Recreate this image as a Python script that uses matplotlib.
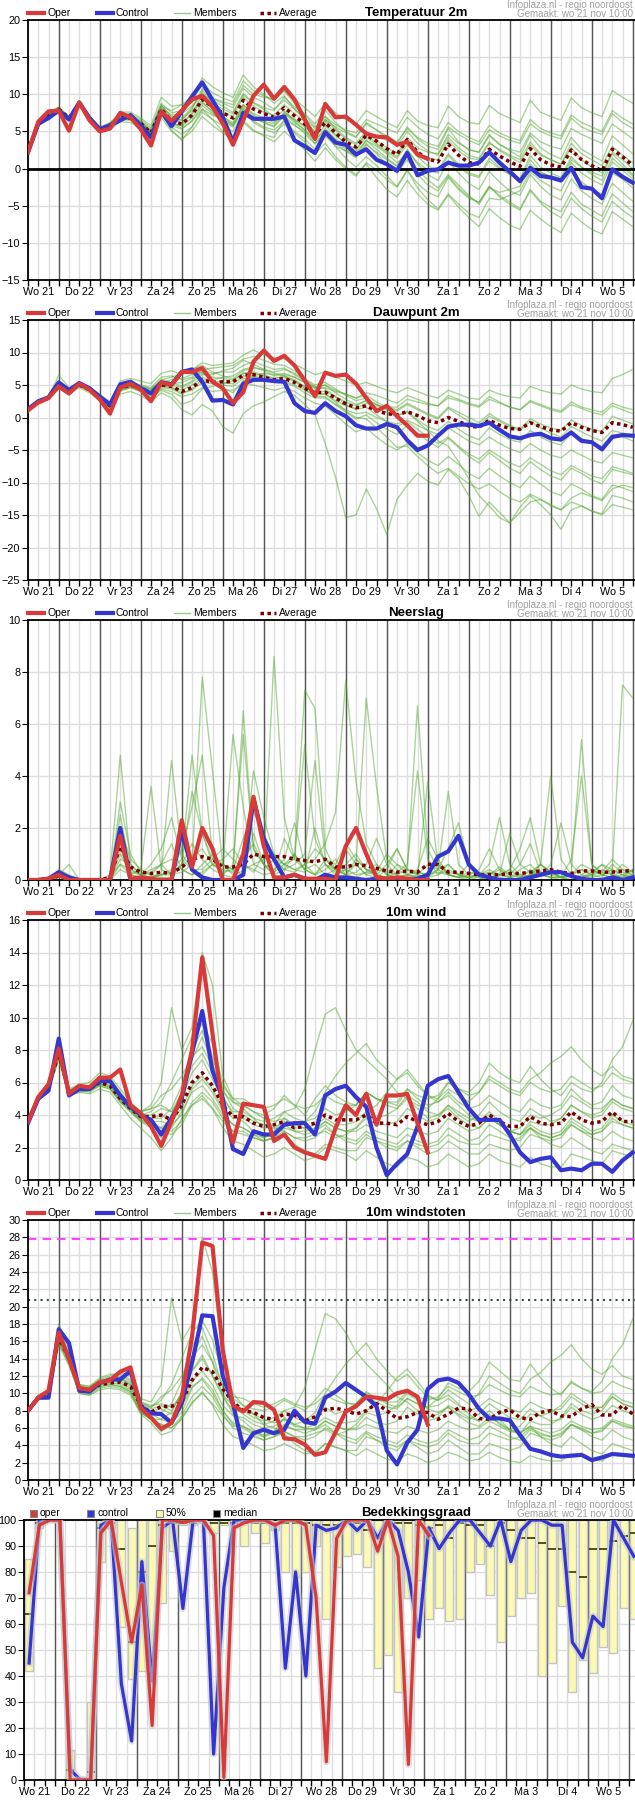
import numpy as np
import matplotlib
matplotlib.use('Agg')
import matplotlib.pyplot as plt
from matplotlib.lines import Line2D
from matplotlib.patches import Rectangle
import matplotlib.patheffects as pe

plt.rcParams['font.family'] = ['Liberation Sans', 'DejaVu Sans']

# ---- data (6-uurlijkse stappen vanaf wo 21 06:00) ----
days = ['Wo 21', 'Do 22', 'Vr 23', 'Za 24', 'Zo 25', 'Ma 26', 'Di 27', 'Wo 28',
        'Do 29', 'Vr 30', 'Za 1', 'Zo 2', 'Ma 3', 'Di 4', 'Wo 5']

temp_oper = [2.2, 6.3, 7.7, 7.8, 5.1, 8.9, 6.5, 5.0, 5.4, 7.5, 6.9, 5.3, 3.1, 7.7, 6.4, 7.8, 9.3, 9.8, 8.3, 6.1,
             3.2, 6.5, 9.8, 11.3, 9.4, 11.0, 9.3, 6.6, 4.0, 8.7, 6.9, 7.0, 5.9, 4.7, 4.3, 4.2, 3.2, 3.6, 1.9, 1.3]
temp_ctrl = [2.2, 6.0, 6.8, 7.8, 6.6, 8.9, 6.8, 5.3, 5.8, 6.5, 7.2, 5.8, 4.2, 7.7, 5.7, 7.7, 9.7, 11.6, 9.2, 6.9,
             3.6, 7.5, 6.7, 6.7, 6.7, 7.0, 3.8, 3.0, 2.1, 4.9, 3.5, 3.2, 1.9, 2.6, 1.2, 0.6, -0.3, 2.1, -0.9, -0.3,
             -0.1, 0.8, 0.4, 0.4, 0.8, 2.2, 0.8, -0.4, -1.7, 0.1, -1.0, -1.2, -1.6, 0.1, -2.5, -2.7, -4.0, -0.1, -1.1, -1.9]
temp_avg = [2.2, 6.2, 7.2, 8.0, 6.8, 8.8, 6.8, 5.3, 5.8, 6.9, 6.8, 6.1, 4.8, 8.0, 6.4, 6.0, 7.2, 9.3, 8.3, 7.5,
            6.8, 9.2, 8.0, 7.4, 6.9, 8.2, 7.1, 6.0, 4.6, 6.2, 4.8, 3.6, 2.9, 4.5, 3.7, 2.7, 1.9, 3.9, 2.2, 1.3,
            0.9, 3.3, 1.8, 0.8, 0.6, 2.6, 1.7, 0.9, 0.3, 2.7, 1.2, 0.5, 0.2, 2.5, 1.2, 0.4, -0.3, 2.6, 1.6, 0.4]
temp_members = [
    [2.4, 6.4, 7.5, 8.3, 7.0, 9.1, 7.0, 5.6, 6.2, 7.4, 7.3, 6.6, 5.5, 8.8, 7.5, 7.8, 9.0, 11.5, 10.2, 9.5, 9.0, 11.8, 10.5, 9.8, 9.2, 10.6, 9.4, 8.2, 7.0, 8.8, 7.5, 6.6, 6.0, 7.8, 7.0, 6.2, 5.5, 7.8, 6.4, 5.8, 5.5, 8.4, 7.0, 6.2, 6.0, 8.5, 7.4, 6.8, 6.2, 9.2, 7.6, 7.0, 6.5, 9.5, 8.2, 7.5, 7.0, 10.5, 9.6, 8.8],
    [2.0, 5.9, 6.9, 7.6, 6.4, 8.4, 6.4, 4.9, 5.2, 6.3, 6.2, 5.4, 3.8, 6.9, 5.0, 4.0, 5.0, 7.0, 5.8, 4.8, 3.9, 6.5, 5.2, 4.4, 3.6, 5.0, 3.8, 2.5, 1.0, 2.8, 1.2, 0.0, -1.0, 0.8, -0.2, -1.5, -2.5, -0.3, -2.0, -3.2, -3.8, -1.2, -2.8, -4.0, -4.5, -2.4, -3.6, -4.5, -5.4, -2.8, -4.4, -5.2, -5.8, -3.2, -4.8, -5.6, -6.4, -3.4, -4.6, -5.8],
    [2.2, 6.1, 7.4, 8.1, 6.9, 8.9, 6.9, 5.4, 5.9, 7.1, 7.0, 6.3, 5.0, 8.5, 7.0, 6.8, 8.2, 10.5, 9.2, 8.4, 7.6, 10.1, 8.9, 8.2, 7.8, 9.6, 8.3, 7.4, 6.0, 7.9, 6.2, 5.0, 4.3, 6.2, 5.2, 4.1, 3.3, 5.6, 4.0, 3.0, 2.6, 5.4, 3.6, 2.5, 2.2, 4.6, 3.3, 2.4, 1.6, 4.5, 2.8, 1.9, 1.3, 4.2, 2.6, 1.8, 1.0, 4.4, 3.2, 2.0],
    [2.1, 6.3, 7.0, 7.9, 6.6, 8.6, 6.6, 5.1, 5.6, 6.6, 6.5, 5.8, 4.4, 7.5, 5.8, 5.3, 6.4, 8.5, 7.4, 6.5, 5.8, 8.3, 7.0, 6.2, 5.7, 7.0, 5.9, 4.7, 3.3, 5.0, 3.5, 2.3, 1.5, 3.2, 2.2, 1.2, 0.3, 2.4, 0.8, -0.2, -0.6, 1.8, 0.3, -0.8, -1.2, 1.0, 0.0, -0.8, -1.5, 1.2, -0.4, -1.2, -1.8, 0.8, -0.6, -1.5, -2.2, 0.9, -0.2, -1.4],
    [2.3, 6.2, 7.3, 8.2, 6.8, 9.0, 7.1, 5.5, 6.0, 7.6, 7.6, 6.8, 5.8, 9.6, 8.4, 8.6, 8.9, 10.2, 9.0, 7.2, 5.8, 8.0, 6.4, 5.6, 5.2, 6.4, 5.0, 4.0, 2.6, 4.4, 3.0, 2.4, 1.8, 3.8, 3.0, 2.0, 0.8, 1.8, -0.2, -1.5, -2.6, -0.8, -2.2, -3.6, -4.8, -2.6, -3.2, -2.8, -2.4, 0.6, -0.6, -1.0, -1.4, 1.2, 0.2, -0.5, -1.0, 2.0, 0.6, -0.8],
    [2.2, 6.0, 7.1, 7.8, 6.7, 8.7, 6.7, 5.2, 5.7, 6.7, 6.6, 5.9, 4.6, 7.6, 6.0, 5.8, 7.5, 9.8, 9.4, 8.8, 8.2, 10.8, 9.6, 8.9, 8.0, 9.2, 8.0, 6.8, 5.4, 7.0, 5.9, 5.2, 4.8, 6.6, 6.0, 5.4, 4.8, 6.9, 5.6, 4.6, 4.0, 6.2, 5.0, 4.2, 3.6, 5.8, 4.8, 4.2, 3.8, 6.6, 5.4, 4.8, 4.4, 7.2, 6.2, 5.6, 5.0, 7.8, 6.8, 6.0],
    [2.3, 6.3, 7.1, 8.1, 6.9, 8.8, 6.9, 5.3, 5.9, 6.8, 6.9, 6.0, 4.9, 7.8, 6.2, 5.4, 6.4, 8.0, 6.6, 5.0, 3.8, 6.2, 5.0, 4.6, 4.2, 6.6, 5.8, 5.0, 3.4, 4.8, 3.0, 1.4, 0.2, 1.6, 0.4, -1.0, -2.4, -0.2, -2.6, -4.2, -5.4, -3.4, -4.8, -6.0, -6.6, -4.0, -4.2, -3.6, -3.0, -0.4, -1.6, -2.4, -3.0, -0.2, -1.8, -2.8, -3.4, -0.6, -1.4, -2.6],
    [2.1, 6.1, 7.2, 8.0, 6.7, 8.9, 6.8, 5.4, 5.8, 6.9, 6.9, 6.2, 5.1, 8.2, 7.2, 7.4, 8.4, 9.8, 8.8, 8.0, 7.4, 9.9, 8.8, 8.0, 7.0, 7.8, 6.4, 5.2, 3.8, 5.4, 4.0, 3.0, 2.4, 4.8, 4.4, 3.8, 3.0, 5.0, 3.4, 2.4, 1.8, 4.2, 2.8, 1.8, 1.4, 3.6, 2.4, 1.6, 0.8, 3.2, 1.8, 1.2, 0.6, 3.4, 2.0, 1.2, 0.4, 3.0, 1.8, 0.8],
    [2.2, 6.2, 7.0, 7.9, 6.7, 8.7, 6.7, 5.2, 5.7, 6.8, 6.6, 6.0, 4.6, 7.9, 6.2, 5.7, 6.8, 8.8, 7.8, 6.9, 6.2, 8.6, 7.4, 6.8, 6.2, 7.4, 6.2, 5.2, 3.8, 5.2, 3.8, 2.6, 1.6, 3.4, 2.0, 0.6, -0.6, 1.2, -0.8, -2.2, -3.0, -1.0, -2.6, -3.8, -4.6, -2.4, -3.8, -4.8, -5.6, -3.0, -4.6, -5.8, -6.6, -4.0, -5.4, -6.4, -7.2, -4.4, -5.6, -6.6],
    [2.3, 6.4, 7.3, 8.1, 6.9, 9.0, 7.0, 5.4, 6.1, 7.2, 7.1, 6.4, 5.3, 8.6, 6.8, 6.5, 8.0, 10.8, 9.5, 9.0, 8.6, 11.2, 10.0, 9.6, 9.4, 10.4, 8.8, 7.2, 5.6, 7.0, 5.4, 4.2, 3.4, 5.0, 3.8, 2.8, 2.0, 4.2, 2.8, 2.2, 2.0, 4.6, 3.4, 2.6, 2.2, 4.4, 3.2, 2.6, 2.2, 4.8, 3.6, 3.0, 2.6, 5.4, 4.6, 4.0, 3.4, 6.0, 5.0, 4.0],
    [2.2, 6.0, 7.2, 8.0, 6.8, 8.8, 6.8, 5.3, 5.8, 6.8, 6.7, 6.0, 4.7, 7.6, 5.6, 4.6, 5.6, 7.6, 6.6, 5.8, 5.0, 7.6, 6.2, 5.4, 4.8, 6.0, 4.8, 3.6, 2.0, 3.4, 1.6, 0.2, -0.8, 0.6, -1.2, -2.8, -3.8, -1.6, -3.4, -4.8, -5.6, -3.6, -5.2, -6.6, -7.8, -5.4, -6.6, -7.6, -8.2, -5.6, -6.8, -7.8, -8.6, -6.0, -7.2, -8.2, -8.8, -5.8, -6.8, -7.8],
    [2.3, 6.2, 7.4, 8.1, 7.0, 8.9, 6.9, 5.4, 5.9, 7.0, 6.9, 6.1, 4.9, 8.2, 6.6, 6.2, 7.3, 9.3, 8.2, 7.6, 7.0, 9.6, 8.4, 7.6, 7.2, 8.6, 7.4, 6.4, 5.0, 6.6, 5.2, 4.0, 3.2, 4.6, 3.4, 2.4, 1.6, 3.8, 2.2, 1.4, 1.2, 3.8, 2.4, 1.4, 1.2, 3.4, 2.6, 1.8, 1.2, 3.6, 2.0, 1.2, 0.6, 2.8, 1.2, 0.2, -0.6, 2.2, 1.2, 0.0],
    [2.2, 6.1, 7.1, 7.9, 6.7, 8.7, 6.8, 5.2, 5.7, 6.8, 6.7, 6.0, 4.6, 8.4, 7.8, 8.6, 9.6, 12.2, 11.0, 10.2, 9.6, 12.6, 11.0, 10.0, 8.8, 9.8, 8.0, 6.6, 4.8, 6.4, 4.6, 3.2, 2.2, 3.8, 2.6, 1.4, 0.4, 2.6, 0.6, -0.8, -1.6, 1.0, -0.6, -2.0, -2.8, -0.4, -1.8, -3.0, -3.6, -0.8, -2.4, -3.6, -4.2, -1.4, -3.0, -4.0, -4.8, -2.0, -3.2, -4.4],
    [2.3, 6.3, 7.2, 8.0, 6.9, 8.8, 6.9, 5.4, 5.9, 7.0, 6.8, 6.0, 4.8, 7.9, 6.4, 6.6, 7.8, 9.0, 7.6, 6.4, 5.6, 8.0, 6.8, 6.2, 5.6, 7.4, 6.6, 5.8, 4.6, 6.6, 5.6, 4.8, 4.2, 6.0, 5.2, 4.4, 3.6, 5.4, 4.2, 3.4, 3.0, 5.6, 4.6, 3.8, 3.2, 5.2, 4.4, 3.8, 3.4, 6.0, 5.0, 4.4, 4.0, 6.8, 5.6, 5.0, 4.6, 7.4, 6.2, 5.4],
    [2.1, 6.2, 7.3, 8.0, 6.8, 8.9, 6.8, 5.3, 5.8, 7.0, 7.0, 6.2, 5.0, 7.4, 5.2, 3.8, 5.6, 8.0, 7.2, 6.6, 6.0, 8.6, 7.2, 6.4, 6.0, 7.6, 6.6, 5.6, 4.2, 5.8, 4.4, 3.4, 2.6, 4.2, 3.2, 2.2, 1.4, 3.2, 1.6, 0.4, -0.2, 2.0, 0.6, -0.6, -1.0, 1.4, 0.2, -0.8, -1.4, 1.8, 0.2, -0.6, -1.2, 1.6, 0.2, -0.8, -1.6, 1.4, 0.2, -1.0],
]

dew_oper = [1.1, 2.3, 3.0, 4.8, 3.7, 5.2, 4.3, 2.8, 0.6, 4.6, 5.2, 4.3, 2.5, 5.4, 5.0, 7.0, 7.0, 7.6, 5.5, 4.5,
            2.2, 3.9, 8.6, 10.3, 8.7, 9.5, 8.0, 5.7, 3.3, 6.9, 6.4, 6.6, 5.2, 3.0, 1.0, 1.8, 0.2, -1.2, -2.8, -2.8]
dew_ctrl = [1.3, 2.5, 3.1, 5.4, 4.2, 5.3, 4.5, 3.2, 2.0, 5.1, 5.5, 4.5, 3.7, 5.4, 5.1, 7.0, 7.4, 5.5, 2.6, 2.7,
            2.0, 5.2, 5.8, 5.8, 5.6, 5.5, 2.2, 1.0, 0.7, 2.2, 1.0, 0.2, -1.2, -1.7, -1.7, -1.0, -1.5, -3.5, -5.0, -4.3,
            -2.8, -1.4, -1.1, -1.1, -1.3, -0.8, -1.9, -2.9, -3.2, -2.7, -2.5, -3.2, -3.4, -2.3, -3.6, -3.8, -4.9, -3.0, -2.7, -2.8]
dew_avg = [1.3, 2.3, 3.0, 4.8, 4.0, 5.0, 4.3, 3.2, 1.8, 4.5, 5.0, 4.5, 3.8, 5.0, 4.8, 4.0, 4.6, 5.8, 5.4, 5.5,
           5.5, 6.5, 6.6, 6.2, 5.8, 6.0, 5.4, 4.5, 3.8, 3.9, 3.0, 2.1, 1.5, 1.8, 1.0, 0.6, 0.4, 0.9, 0.3, -0.5,
           -0.8, 0.0, -0.6, -1.3, -1.5, -0.4, -1.2, -1.7, -1.8, -0.8, -1.4, -1.9, -2.1, -0.8, -1.5, -2.0, -2.3, -0.8, -1.1, -1.5]
dew_members = [
    [1.4, 2.5, 3.2, 6.5, 4.6, 5.4, 4.6, 3.6, 2.4, 5.6, 6.0, 5.6, 5.2, 6.8, 7.2, 6.6, 7.4, 8.4, 8.0, 8.2, 8.4, 9.6, 10.4, 9.6, 9.2, 9.0, 8.2, 7.4, 6.6, 7.0, 6.2, 5.6, 5.0, 5.4, 4.8, 4.2, 3.8, 4.6, 4.0, 3.4, 3.0, 4.2, 3.6, 3.0, 2.8, 4.2, 3.6, 3.2, 3.0, 4.8, 4.2, 3.8, 3.6, 5.0, 4.4, 4.0, 3.8, 6.0, 6.6, 7.4],
    [1.2, 2.2, 2.8, 4.4, 3.6, 4.6, 3.8, 2.6, 0.8, 3.6, 4.0, 3.4, 2.4, 3.8, 3.0, 1.2, 0.4, 2.0, 1.0, -1.4, -2.4, 0.6, 1.8, 2.4, 3.2, 4.0, 3.4, 2.0, 0.4, -4.0, -9.2, -15.4, -15.0, -11.0, -14.0, -18.0, -12.6, -10.4, -8.6, -9.8, -10.4, -8.0, -9.4, -12.0, -15.2, -13.0, -14.6, -16.2, -13.8, -12.0, -13.4, -15.0, -17.2, -14.2, -13.6, -14.4, -14.8, -12.0, -12.4, -13.0],
    [1.3, 2.4, 3.1, 5.0, 4.2, 5.2, 4.5, 3.4, 2.2, 4.8, 5.4, 4.8, 4.2, 5.8, 5.4, 4.8, 5.6, 7.2, 6.8, 7.0, 7.0, 8.0, 8.6, 8.0, 7.4, 7.6, 6.6, 5.6, 4.6, 5.0, 3.8, 2.8, 2.0, 2.6, 1.4, 0.8, 0.2, 1.0, -0.4, -1.4, -2.0, -0.6, -1.8, -2.8, -3.4, -1.6, -2.6, -3.4, -3.8, -2.0, -3.0, -3.8, -4.2, -2.4, -3.2, -4.0, -4.4, -2.6, -3.0, -3.6],
    [1.2, 2.2, 2.9, 4.6, 3.8, 4.8, 4.0, 2.9, 1.4, 4.2, 4.6, 4.0, 3.2, 4.4, 4.0, 3.2, 3.6, 4.6, 4.0, 4.2, 4.2, 5.2, 5.0, 4.6, 4.2, 4.6, 4.0, 3.0, 2.2, 1.8, 0.4, -1.0, -2.2, -1.6, -3.0, -4.2, -5.0, -4.0, -5.4, -6.6, -7.4, -6.0, -7.2, -8.6, -9.4, -7.8, -9.0, -10.0, -10.8, -9.0, -10.2, -11.4, -12.0, -10.2, -11.0, -12.0, -12.6, -10.4, -10.8, -11.4],
    [1.3, 2.3, 3.0, 5.6, 4.2, 5.1, 4.4, 3.4, 2.0, 4.8, 5.2, 4.8, 4.4, 5.4, 5.8, 6.0, 6.6, 7.0, 5.4, 4.6, 3.8, 5.6, 6.4, 6.8, 6.6, 6.8, 6.2, 5.4, 4.4, 4.6, 4.0, 3.6, 3.0, 3.4, 2.4, 1.6, 1.2, 2.2, 1.4, 0.6, 0.0, 1.6, 0.8, 0.0, -0.8, 0.6, -0.4, -1.2, -1.8, -0.2, -1.0, -1.6, -2.0, -0.4, -1.2, -1.8, -2.2, 0.2, -0.4, -1.0],
    [1.4, 2.4, 3.0, 4.8, 4.0, 5.0, 4.3, 3.2, 1.8, 4.6, 5.0, 4.6, 4.0, 5.2, 5.0, 4.6, 5.4, 6.6, 6.6, 7.2, 7.6, 8.8, 8.2, 7.4, 6.8, 6.4, 5.6, 4.4, 3.2, 3.2, 2.0, 0.8, -0.2, 0.4, -0.8, -1.8, -2.6, -1.2, -2.4, -3.6, -4.6, -3.2, -4.6, -6.0, -7.0, -5.4, -6.6, -7.8, -8.6, -6.8, -8.0, -9.0, -9.6, -7.8, -8.6, -9.6, -10.2, -8.0, -8.4, -8.8],
    [1.3, 2.3, 3.0, 4.8, 4.0, 5.0, 4.2, 3.0, 1.6, 4.4, 4.8, 4.2, 3.4, 4.6, 4.4, 3.6, 4.4, 5.8, 5.8, 6.2, 6.4, 7.4, 7.8, 7.2, 6.4, 6.6, 6.2, 5.4, 4.6, 5.0, 4.2, 3.6, 3.0, 3.8, 3.4, 2.8, 2.2, 3.4, 2.8, 2.2, 1.8, 3.4, 2.8, 2.2, 1.8, 3.2, 2.4, 1.6, 1.2, 2.6, 2.0, 1.4, 1.0, 2.4, 1.6, 1.2, 0.8, 2.2, 1.6, 1.2],
    [1.2, 2.2, 3.0, 4.8, 3.8, 4.9, 4.2, 3.1, 1.6, 4.2, 4.8, 4.4, 3.6, 4.8, 4.6, 3.8, 4.2, 5.4, 5.2, 5.0, 4.8, 6.0, 6.2, 5.8, 5.4, 5.4, 4.8, 3.8, 3.0, 3.0, 2.0, 1.2, 0.6, 0.8, 0.0, -0.6, -1.0, -0.4, -1.2, -2.0, -2.6, -1.6, -2.6, -3.6, -4.2, -3.0, -4.0, -4.8, -5.4, -4.0, -5.0, -5.8, -6.2, -5.0, -5.8, -6.6, -7.0, -5.4, -5.8, -6.2],
    [1.4, 2.4, 3.2, 5.2, 4.4, 5.4, 4.6, 3.4, 2.2, 5.0, 5.4, 5.0, 4.6, 6.2, 6.4, 5.8, 6.2, 7.4, 7.6, 7.8, 8.0, 9.0, 9.4, 8.8, 8.2, 8.0, 7.2, 6.0, 5.0, 5.4, 4.4, 3.4, 2.6, 3.0, 2.0, 1.2, 0.4, 0.8, -0.6, -2.0, -3.6, -4.4, -6.8, -9.4, -12.0, -13.6, -15.4, -16.2, -14.6, -13.0, -12.6, -13.4, -14.2, -12.4, -11.6, -12.2, -12.8, -11.0, -10.4, -10.8],
    [1.3, 2.3, 2.9, 4.6, 3.9, 4.9, 4.2, 3.0, 1.2, 4.0, 4.6, 4.0, 3.0, 4.2, 3.6, 2.0, 2.6, 4.4, 4.8, 5.2, 5.6, 6.8, 7.0, 6.6, 6.0, 6.4, 5.8, 4.8, 4.0, 4.0, 3.2, 2.4, 1.8, 2.6, 2.0, 1.4, 1.0, 2.0, 1.2, 0.4, -0.2, 1.4, 0.4, -0.6, -1.2, 0.2, -0.6, -1.4, -2.0, -0.6, -1.6, -2.4, -3.0, -1.4, -2.2, -3.0, -3.6, -2.0, -2.4, -2.8],
    [1.3, 2.4, 3.0, 4.9, 4.1, 5.1, 4.4, 3.3, 2.0, 4.7, 5.2, 4.8, 4.4, 5.8, 6.2, 6.8, 7.4, 8.0, 7.0, 6.4, 6.0, 7.2, 7.6, 7.4, 7.0, 7.4, 6.8, 5.8, 4.8, 4.4, 3.2, 2.0, 1.2, 1.6, 0.4, -0.6, -1.4, -0.6, -1.8, -3.0, -4.0, -3.0, -4.4, -5.6, -6.4, -5.0, -6.0, -7.0, -7.6, -6.2, -7.2, -8.2, -8.8, -7.4, -8.2, -9.0, -9.4, -7.6, -8.0, -8.6],
    [1.2, 2.3, 3.0, 4.7, 3.9, 5.0, 4.3, 3.1, 1.7, 4.4, 4.9, 4.3, 3.6, 4.9, 4.6, 4.2, 5.0, 6.2, 5.6, 5.4, 5.2, 6.4, 6.4, 6.0, 5.6, 5.6, 5.0, 4.2, 3.4, 3.6, 2.6, 1.8, 1.4, 2.2, 1.8, 1.6, 1.6, 2.8, 2.4, 2.0, 1.8, 3.0, 2.6, 2.0, 1.6, 2.8, 2.2, 1.6, 1.2, 2.4, 1.8, 1.2, 0.8, 2.0, 1.4, 0.8, 0.4, 1.8, 1.2, 0.6],
    [1.3, 2.3, 3.0, 4.8, 4.0, 5.0, 4.3, 3.2, 1.9, 4.6, 5.1, 4.6, 3.9, 5.2, 5.2, 5.4, 6.0, 6.8, 6.2, 6.0, 5.8, 6.8, 6.8, 6.4, 6.0, 6.2, 5.6, 4.6, 3.8, 3.6, 2.4, 1.0, 0.0, -0.2, -1.6, -3.0, -4.6, -4.4, -6.0, -7.4, -8.6, -7.8, -9.0, -10.2, -11.0, -10.2, -11.4, -12.4, -13.0, -11.8, -12.6, -13.6, -14.2, -13.0, -13.6, -14.4, -15.0, -13.4, -13.8, -14.2],
]

rain_oper = [0, 0, 0.05, 0.2, 0, 0, 0, 0, 0, 1.7, 0.05, 0.1, 0.05, 0, 0, 2.3, 0.5, 2.0, 1.2, 0,
             0, 1.0, 3.2, 1.3, 0.1, 0.1, 0.2, 0.05, 0.05, 0.05, 0, 1.3, 2.0, 1.0, 0.1, 0.05, 0.1, 0.05, 0, 0]
rain_ctrl = [0, 0, 0.05, 0.3, 0.1, 0, 0, 0, 0, 2.0, 0, 0.05, 0, 0, 0, 1.9, 0.4, 0.1, 0, 0,
             0, 0.2, 3.1, 1.6, 0.8, 0.1, 0.2, 0.05, 0, 0.2, 0.1, 0.1, 0.05, 0, 0.05, 0, 0, 0, 0.05, 0.2,
             0.9, 1.1, 1.7, 0.6, 0.2, 0.1, 0, 0, 0, 0.1, 0.2, 0.3, 0.3, 0.15, 0.05, 0, 0, 0.1, 0, 0.1]
rain_avg = [0, 0, 0.05, 0.15, 0.05, 0, 0, 0, 0.1, 1.3, 0.5, 0.3, 0.25, 0.3, 0.25, 0.5, 0.8, 0.9, 0.8, 0.5,
            0.5, 0.6, 1.0, 0.9, 0.9, 0.9, 0.8, 0.75, 0.7, 0.8, 0.5, 0.5, 0.6, 0.55, 0.45, 0.35, 0.3, 0.35, 0.3, 0.6,
            0.6, 0.3, 0.3, 0.25, 0.2, 0.2, 0.2, 0.25, 0.25, 0.3, 0.35, 0.4, 0.3, 0.25, 0.35, 0.35, 0.3, 0.3, 0.35, 0.35]
rain_members = [
    [0, 0, 0.1, 0.3, 0.1, 0, 0, 0, 0, 2.5, 0.4, 0.2, 0.1, 0.2, 0.3, 1.2, 2.8, 4.8, 1.0, 0.2, 0.1, 0.4, 1.8, 0.6, 0.4, 0.8, 2.2, 0.6, 0.2, 0.4, 0.8, 0.2, 0.1, 0.3, 0.6, 0.2, 0.1, 0.2, 0.4, 1.6, 0.8, 0.2, 0.1, 0, 0, 0.2, 0.4, 0.1, 0, 0.2, 0.6, 0.3, 0.1, 0, 0.2, 0.4, 0.2, 0.1, 0.4, 0.3],
    [0, 0, 0, 0.2, 0.6, 0, 0, 0, 0.2, 4.8, 0.6, 0.2, 0.4, 0.6, 0.2, 0.6, 1.4, 0.8, 0.4, 0.2, 0.6, 5.6, 1.2, 0.6, 8.6, 2.4, 0.8, 0.4, 0.6, 0.2, 0.4, 1.2, 0.6, 0.2, 0.1, 0.4, 1.2, 0.4, 0.2, 0.1, 0.2, 0.6, 0.2, 0.1, 0.2, 0.3, 0.1, 0, 0.1, 0.4, 0.2, 0.1, 0.1, 0.3, 5.4, 0.6, 0.2, 0.1, 0.2, 0.4],
    [0, 0, 0, 0.1, 0, 0, 0, 0, 0, 1.2, 0.2, 0.4, 3.6, 0.4, 0.2, 0.3, 0.6, 7.8, 4.2, 0.6, 0.2, 0.8, 1.4, 0.6, 0.2, 1.6, 0.8, 7.3, 6.6, 1.2, 0.4, 0.6, 1.0, 0.4, 0.2, 0.1, 0.3, 0.6, 4.2, 0.8, 0.2, 0.4, 0.2, 0.6, 0.3, 0.1, 0.2, 0.1, 0.4, 0.6, 0.2, 0.1, 0.1, 0.2, 0.1, 0.3, 0.6, 0.2, 0.1, 0.2],
    [0, 0, 0.1, 0.3, 0, 0, 0, 0, 0, 0.6, 0.2, 0.1, 0.1, 0.3, 4.6, 1.0, 0.4, 0.4, 0.8, 1.2, 0.8, 0.4, 0.6, 0.8, 1.0, 0.6, 0.4, 0.6, 0.8, 1.4, 2.6, 7.7, 3.8, 1.4, 0.6, 0.2, 0.1, 0.2, 0.3, 0.2, 0.4, 0.6, 0.2, 0.1, 0, 0.2, 0.5, 0.2, 0.6, 1.4, 0.3, 0.2, 0.1, 0.2, 0.4, 0.2, 0.1, 0.6, 0.3, 0.2],
    [0, 0, 0, 0.2, 0.1, 0, 0, 0, 0, 2.0, 0.8, 0.4, 0.2, 0.1, 0.1, 0.6, 3.4, 1.8, 0.6, 0.4, 5.6, 2.8, 0.6, 0.4, 0.8, 0.4, 0.6, 1.0, 4.6, 0.8, 0.4, 0.2, 0.6, 7.0, 3.6, 0.8, 0.4, 0.2, 0.1, 3.8, 0.6, 0.3, 0.2, 0.1, 0.1, 0, 0.2, 0.4, 0.1, 0.2, 0.3, 0.1, 0, 0.2, 0.6, 0.4, 0.2, 0.4, 0.2, 0.1],
    [0, 0, 0, 0.4, 0.2, 0, 0, 0, 0, 1.0, 0.3, 0.2, 0.1, 0.2, 0.2, 1.8, 0.9, 1.2, 0.6, 0.3, 0.4, 1.6, 2.6, 1.8, 0.8, 0.4, 0.3, 0.6, 1.2, 0.8, 0.4, 0.2, 0.3, 0.6, 1.6, 0.6, 0.2, 0.4, 6.7, 1.2, 0.4, 0.2, 0.1, 0.1, 0.2, 0.4, 0.2, 1.8, 0.6, 0.3, 0.2, 0.4, 0.1, 0, 0.1, 0.2, 0.4, 0.2, 0.6, 0.3],
    [0, 0, 0, 0.2, 0, 0, 0, 0, 0, 0.8, 0.6, 0.2, 0.3, 0.6, 0.8, 0.4, 0.2, 0.6, 1.0, 0.6, 0.4, 0.2, 4.2, 2.4, 1.0, 0.6, 0.8, 5.2, 1.6, 0.6, 0.3, 0.4, 0.6, 0.2, 0.4, 0.3, 0.2, 0.1, 0.2, 0.1, 0.4, 1.2, 2.2, 0.6, 0.3, 0.1, 0.2, 0.4, 1.2, 2.4, 0.6, 0.3, 0.1, 0.2, 0.4, 0.2, 0.3, 0.8, 0.4, 0.2],
    [0, 0, 0, 0.1, 0, 0, 0, 0, 0, 0.4, 0.2, 0.1, 0.1, 0.2, 0.4, 0.8, 4.8, 1.8, 0.8, 0.6, 0.4, 0.6, 0.3, 1.0, 0.8, 0.6, 0.4, 0.3, 2.0, 0.6, 0.2, 0.4, 0.2, 0.3, 0.2, 0.6, 1.2, 0.4, 0.3, 0.2, 0.3, 0.2, 0.1, 0.3, 0.2, 0.6, 2.4, 0.6, 0.2, 0.1, 0.6, 4.0, 0.8, 0.2, 0.1, 0.2, 0.6, 0.4, 0.2, 0.1],
    [0, 0, 0, 0.2, 0.1, 0, 0, 0, 0, 3.0, 1.0, 0.3, 0.2, 0.6, 1.4, 0.4, 0.2, 0.3, 0.6, 0.4, 0.3, 6.5, 1.2, 0.6, 0.2, 0.4, 1.0, 0.4, 0.2, 0.6, 0.4, 0.2, 0.8, 0.4, 0.3, 1.0, 0.6, 0.2, 0.1, 0.3, 0.6, 0.2, 0.1, 0.2, 0.4, 1.2, 0.4, 0.2, 0.1, 0.2, 0.2, 0.6, 2.2, 0.6, 0.2, 0.1, 0.2, 0.4, 7.5, 7.0],
    [0, 0, 0, 0.3, 0, 0, 0, 0, 0.1, 0.6, 0.4, 0.2, 0.6, 1.2, 2.4, 0.8, 0.4, 0.2, 0.6, 0.8, 1.2, 0.6, 0.4, 0.2, 0.3, 0.6, 1.0, 0.4, 0.2, 0.8, 0.6, 1.4, 0.8, 0.4, 0.2, 0.1, 0.6, 0.4, 0.2, 0.6, 0.4, 3.4, 0.6, 0.2, 0.1, 0.3, 0.2, 0.1, 0.2, 0.3, 0.6, 0.3, 0.1, 0.8, 4.0, 0.6, 0.3, 0.2, 0.1, 0.4],
]

wind_oper = [3.6, 5.1, 5.9, 8.1, 5.3, 5.8, 5.7, 6.3, 6.3, 6.8, 4.6, 4.1, 3.3, 2.1, 3.6, 5.2, 8.0, 13.7, 9.0, 4.5,
             2.3, 4.7, 4.6, 4.5, 2.4, 2.8, 2.0, 1.7, 1.5, 1.3, 3.2, 4.6, 4.0, 5.3, 3.4, 5.2, 5.2, 5.3, 3.5, 1.7]
wind_ctrl = [3.5, 5.0, 5.5, 8.7, 5.2, 5.6, 5.6, 6.1, 6.1, 5.2, 4.5, 4.0, 3.7, 2.8, 3.8, 5.0, 7.8, 10.4, 6.7, 5.0,
             1.9, 1.6, 3.0, 2.8, 2.8, 3.4, 3.5, 3.5, 2.8, 5.2, 5.6, 5.8, 5.1, 4.5, 2.0, 0.3, 1.0, 1.6, 3.3, 5.8,
             6.2, 6.4, 5.4, 4.4, 3.7, 3.7, 3.7, 2.8, 1.7, 1.1, 1.3, 1.4, 0.6, 0.7, 0.6, 1.0, 1.0, 0.5, 1.2, 1.7]
wind_avg = [3.6, 5.0, 5.7, 7.8, 5.4, 5.6, 5.6, 6.0, 5.8, 5.0, 4.4, 3.9, 3.9, 4.0, 3.7, 4.6, 6.0, 6.6, 5.8, 4.6,
            3.9, 3.9, 3.5, 3.3, 3.4, 3.6, 3.2, 3.3, 3.5, 4.0, 3.7, 3.7, 3.7, 4.0, 3.5, 3.5, 3.4, 3.9, 3.6, 3.4,
            3.6, 4.1, 3.6, 3.3, 3.5, 4.0, 3.6, 3.3, 3.3, 3.9, 3.5, 3.4, 3.5, 4.2, 3.7, 3.5, 3.6, 4.2, 3.6, 3.6]
wind_members = [
    [3.7, 5.2, 5.9, 8.6, 5.6, 5.9, 6.0, 6.6, 6.4, 5.6, 4.8, 4.2, 4.6, 6.0, 10.6, 8.0, 9.4, 14.0, 12.0, 6.4, 5.0, 4.6, 4.2, 4.0, 4.4, 5.2, 4.6, 4.0, 5.0, 5.8, 5.2, 4.8, 4.6, 5.4, 5.0, 4.8, 4.6, 5.6, 5.0, 4.6, 4.8, 5.4, 4.8, 4.4, 4.6, 5.2, 4.8, 4.4, 4.2, 5.0, 4.6, 4.4, 4.6, 5.6, 5.0, 4.6, 4.8, 5.8, 5.2, 5.0],
    [3.5, 4.9, 5.5, 7.4, 5.2, 5.4, 5.3, 5.6, 5.4, 4.6, 3.8, 3.2, 2.6, 1.8, 2.6, 3.8, 4.6, 5.2, 4.4, 3.2, 2.4, 2.2, 1.8, 1.4, 1.6, 2.0, 1.6, 1.2, 1.4, 2.0, 1.8, 1.6, 1.2, 1.8, 1.4, 1.0, 0.8, 1.4, 1.2, 0.8, 1.0, 1.6, 1.2, 0.8, 1.0, 1.6, 1.2, 1.0, 0.8, 1.4, 1.0, 0.8, 0.8, 1.6, 1.4, 1.2, 1.0, 1.8, 1.6, 1.4],
    [3.6, 5.1, 5.8, 8.0, 5.5, 5.8, 5.8, 6.4, 6.2, 5.4, 4.6, 4.0, 4.2, 4.8, 6.0, 7.4, 8.8, 9.6, 8.4, 6.0, 4.8, 4.4, 3.8, 3.2, 3.4, 4.2, 4.4, 5.6, 8.0, 10.2, 10.6, 9.2, 8.0, 7.4, 6.8, 6.2, 5.4, 5.0, 4.4, 3.8, 4.0, 4.6, 4.0, 3.6, 4.0, 4.8, 4.2, 3.8, 3.6, 4.4, 4.0, 3.6, 3.8, 4.6, 4.2, 3.8, 4.0, 4.8, 4.4, 4.2],
    [3.5, 5.0, 5.6, 7.6, 5.3, 5.5, 5.4, 5.8, 5.6, 4.8, 4.2, 3.6, 3.4, 3.2, 3.0, 3.6, 4.8, 5.4, 4.8, 3.8, 3.0, 2.8, 2.6, 2.4, 2.6, 3.0, 2.6, 2.4, 2.6, 3.2, 2.8, 2.6, 2.4, 3.0, 2.6, 2.4, 2.2, 2.8, 2.4, 2.2, 2.4, 3.2, 2.8, 2.4, 2.6, 3.4, 3.0, 2.6, 2.4, 3.2, 2.8, 2.6, 2.8, 3.6, 3.2, 2.8, 3.0, 3.8, 3.4, 3.2],
    [3.6, 5.0, 5.7, 7.8, 5.4, 5.7, 5.7, 6.2, 6.0, 5.2, 4.6, 4.2, 4.4, 4.6, 4.2, 5.4, 7.0, 7.8, 6.6, 5.4, 4.8, 4.6, 4.2, 3.8, 3.6, 3.8, 3.4, 3.6, 4.2, 5.4, 6.4, 7.2, 7.8, 8.4, 7.4, 6.8, 6.2, 6.6, 5.8, 5.2, 5.0, 5.6, 5.2, 4.8, 5.4, 6.4, 6.0, 5.6, 5.4, 6.2, 6.6, 7.2, 7.6, 8.2, 7.4, 6.8, 6.4, 7.0, 6.4, 6.2],
    [3.5, 4.9, 5.6, 7.5, 5.2, 5.4, 5.5, 5.8, 5.6, 4.8, 4.2, 3.6, 3.2, 2.6, 3.2, 4.2, 5.4, 5.8, 5.0, 4.0, 3.4, 3.2, 2.8, 2.6, 2.8, 3.4, 3.0, 2.8, 3.0, 3.6, 3.2, 3.0, 3.2, 3.8, 3.4, 3.4, 3.6, 4.4, 4.0, 3.6, 3.8, 4.6, 4.2, 3.8, 3.6, 4.2, 3.6, 3.0, 2.8, 3.2, 2.6, 2.2, 2.0, 2.6, 2.2, 1.8, 1.6, 2.2, 2.0, 1.8],
    [3.7, 5.1, 5.8, 8.2, 5.5, 5.8, 5.7, 6.2, 6.0, 5.2, 4.6, 4.0, 4.0, 4.4, 4.2, 5.0, 6.6, 7.4, 6.2, 5.0, 4.2, 4.2, 3.8, 3.6, 3.8, 4.2, 3.8, 3.6, 3.8, 4.4, 4.0, 4.2, 4.6, 5.4, 5.0, 4.6, 4.4, 5.0, 4.6, 4.4, 5.0, 6.0, 5.6, 5.4, 6.0, 7.2, 6.6, 6.2, 6.0, 7.0, 6.2, 5.6, 5.2, 6.0, 5.6, 5.4, 6.0, 7.4, 8.2, 9.8],
    [3.5, 5.0, 5.6, 7.7, 5.3, 5.5, 5.5, 5.9, 5.7, 4.9, 4.3, 3.7, 3.6, 3.6, 3.4, 4.0, 5.6, 6.2, 5.4, 4.2, 3.4, 3.2, 2.8, 2.4, 2.6, 2.8, 2.2, 1.8, 1.6, 2.2, 2.0, 1.8, 1.8, 2.6, 2.4, 2.0, 1.8, 2.4, 2.0, 1.6, 1.8, 2.4, 2.0, 1.6, 1.6, 2.2, 2.0, 1.8, 2.0, 2.8, 2.6, 2.4, 2.6, 3.4, 3.0, 2.6, 2.4, 3.0, 2.6, 2.4],
    [3.6, 5.0, 5.7, 7.9, 5.4, 5.6, 5.6, 6.0, 5.8, 5.0, 4.4, 3.8, 3.8, 4.0, 3.6, 4.4, 5.8, 6.4, 5.6, 4.4, 3.8, 3.8, 3.4, 3.2, 3.2, 3.6, 3.2, 3.2, 3.4, 3.8, 3.4, 3.4, 3.6, 4.2, 4.6, 5.4, 6.2, 6.8, 6.0, 5.2, 4.8, 5.2, 4.6, 4.0, 3.6, 4.0, 3.4, 3.0, 2.8, 3.6, 3.4, 3.4, 3.8, 4.6, 4.2, 4.0, 4.2, 5.0, 4.6, 4.4],
    [3.6, 5.1, 5.7, 7.8, 5.4, 5.7, 5.6, 6.1, 5.9, 5.1, 4.5, 3.9, 3.6, 3.2, 3.8, 5.2, 7.4, 8.8, 7.2, 5.2, 4.0, 3.6, 3.0, 2.6, 3.0, 3.8, 3.4, 3.2, 3.0, 3.4, 2.8, 2.4, 2.2, 2.8, 2.4, 2.2, 2.0, 2.4, 2.2, 2.0, 2.2, 2.8, 2.4, 2.2, 2.2, 2.8, 2.6, 2.4, 2.6, 3.2, 2.8, 2.6, 2.8, 3.4, 3.0, 2.8, 3.0, 3.6, 3.4, 3.2],
    [3.6, 5.1, 5.8, 8.3, 5.5, 5.8, 5.7, 6.2, 6.0, 5.3, 4.7, 4.2, 4.4, 5.2, 5.6, 6.4, 7.6, 8.2, 7.0, 5.8, 5.0, 5.0, 4.6, 4.4, 4.6, 5.0, 4.6, 4.4, 4.6, 5.2, 4.8, 4.6, 4.6, 5.4, 5.0, 4.8, 4.8, 5.6, 5.2, 5.0, 5.2, 6.0, 5.6, 5.2, 5.4, 6.2, 5.8, 5.4, 5.2, 6.0, 5.6, 5.4, 5.6, 6.4, 6.0, 5.6, 5.8, 6.6, 6.2, 6.0],
    [3.5, 5.0, 5.6, 7.6, 5.3, 5.5, 5.5, 5.9, 5.7, 4.9, 4.3, 3.7, 3.4, 3.0, 2.8, 3.4, 4.6, 5.0, 4.4, 3.6, 3.0, 3.0, 2.6, 2.4, 2.6, 3.2, 3.0, 3.0, 3.2, 3.6, 3.2, 3.0, 3.0, 3.4, 3.0, 2.8, 2.6, 3.2, 3.0, 2.8, 3.0, 3.8, 3.4, 3.0, 3.2, 3.8, 3.4, 3.0, 2.8, 3.4, 3.0, 2.8, 3.0, 3.8, 3.4, 3.0, 3.2, 4.0, 3.6, 3.4],
    [3.6, 5.0, 5.7, 7.7, 5.4, 5.6, 5.6, 6.0, 5.8, 5.0, 4.4, 3.9, 3.8, 3.8, 4.4, 5.8, 8.0, 9.2, 7.6, 5.6, 4.4, 4.0, 3.6, 3.4, 3.2, 3.0, 2.6, 2.6, 2.8, 3.0, 2.6, 2.8, 3.2, 4.0, 3.8, 4.0, 4.4, 5.2, 4.8, 4.2, 4.0, 4.4, 3.8, 3.4, 3.2, 3.8, 3.4, 3.0, 3.2, 4.0, 3.8, 4.0, 4.4, 5.2, 4.8, 4.4, 4.4, 5.0, 4.6, 4.4],
]

gust_oper = [8.0, 9.5, 10.3, 17.0, 14.0, 10.6, 10.4, 11.3, 11.5, 12.5, 13.0, 8.3, 7.2, 5.9, 6.6, 9.5, 16.5, 27.4, 27.0, 15.0,
             8.6, 7.9, 9.0, 8.9, 8.1, 4.8, 4.7, 4.1, 2.9, 3.2, 5.5, 7.9, 8.5, 9.6, 9.5, 9.3, 10.0, 10.3, 9.6, 6.4]
gust_ctrl = [8.0, 9.5, 9.5, 17.4, 15.8, 10.3, 10.2, 11.2, 11.6, 11.6, 12.6, 8.5, 7.7, 7.6, 6.6, 8.9, 13.5, 19.0, 18.9, 12.0,
             8.8, 3.7, 5.4, 5.8, 5.4, 5.8, 8.0, 6.7, 6.5, 9.5, 10.2, 11.2, 10.4, 9.6, 8.5, 3.4, 1.8, 4.3, 5.8, 10.5,
             11.5, 11.7, 11.2, 9.9, 8.2, 7.1, 7.1, 6.9, 5.2, 3.6, 3.3, 2.9, 2.7, 2.8, 2.9, 2.3, 2.6, 3.0, 2.9, 2.8]
gust_avg = [8.0, 9.5, 10.0, 16.5, 14.0, 10.5, 10.4, 11.0, 11.2, 11.3, 10.8, 8.6, 7.8, 8.5, 8.5, 9.0, 11.5, 13.0, 12.5, 10.5,
            9.0, 8.0, 7.8, 7.2, 7.0, 7.6, 7.5, 6.8, 7.3, 8.1, 8.3, 8.0, 7.6, 8.0, 8.8, 8.0, 7.1, 7.3, 7.8, 7.8,
            7.0, 7.6, 8.3, 8.2, 7.1, 7.0, 7.8, 8.1, 7.2, 7.0, 7.8, 8.0, 7.4, 7.3, 8.2, 8.7, 7.5, 7.5, 8.6, 7.6]
gust_members = [
    [8.2, 9.8, 10.4, 18.0, 15.0, 11.0, 10.8, 11.6, 12.0, 12.4, 12.0, 9.4, 9.0, 11.0, 21.0, 16.0, 18.0, 28.0, 24.0, 14.0, 10.0, 8.6, 8.2, 8.0, 8.4, 9.2, 8.6, 8.0, 9.2, 10.6, 9.8, 9.0, 8.6, 9.6, 9.0, 8.4, 8.2, 9.4, 8.8, 8.4, 8.6, 9.4, 8.6, 8.0, 8.4, 9.4, 8.8, 8.2, 7.8, 9.0, 8.4, 8.0, 8.2, 9.6, 8.8, 8.2, 8.4, 10.0, 9.2, 8.8],
    [7.8, 9.2, 9.6, 15.8, 13.4, 10.0, 9.8, 10.4, 10.6, 10.4, 9.8, 7.6, 6.6, 5.2, 5.6, 7.2, 8.8, 10.2, 8.6, 6.4, 5.0, 4.6, 4.0, 3.4, 3.6, 4.2, 3.6, 3.0, 3.2, 4.2, 3.8, 3.4, 2.8, 3.6, 3.0, 2.4, 2.2, 3.0, 2.6, 2.0, 2.4, 3.2, 2.8, 2.2, 2.4, 3.2, 2.6, 2.2, 2.0, 2.8, 2.4, 2.2, 2.2, 3.0, 2.8, 2.4, 2.2, 3.0, 2.8, 2.6],
    [8.1, 9.6, 10.2, 16.8, 14.4, 10.8, 10.6, 11.4, 11.8, 12.0, 11.4, 9.0, 8.4, 9.2, 11.0, 14.0, 17.0, 18.4, 16.2, 12.0, 9.4, 8.6, 7.6, 6.4, 6.8, 8.0, 8.4, 10.6, 15.0, 19.2, 18.6, 17.0, 14.8, 13.4, 12.2, 11.0, 9.6, 9.0, 8.0, 7.2, 7.6, 8.4, 7.6, 7.0, 7.6, 8.8, 8.0, 7.2, 7.0, 8.2, 7.4, 6.8, 7.0, 8.4, 7.6, 7.0, 7.4, 8.6, 8.0, 7.6],
    [7.9, 9.4, 9.9, 16.2, 13.8, 10.4, 10.2, 11.0, 11.2, 11.0, 10.4, 8.0, 7.0, 6.4, 6.0, 7.4, 9.6, 10.8, 9.6, 7.6, 6.0, 5.4, 5.0, 4.6, 5.0, 5.6, 5.0, 4.6, 5.0, 6.0, 5.4, 5.0, 4.6, 5.6, 5.0, 4.6, 4.2, 5.2, 4.6, 4.2, 4.6, 5.8, 5.2, 4.6, 5.0, 6.2, 5.6, 5.0, 4.6, 5.8, 5.2, 5.0, 5.2, 6.4, 6.0, 5.4, 5.6, 6.8, 6.2, 6.0],
    [8.0, 9.5, 10.1, 16.6, 14.2, 10.6, 10.4, 11.2, 11.6, 11.8, 11.0, 8.8, 8.2, 8.6, 8.0, 10.0, 12.6, 14.0, 12.0, 9.8, 8.6, 8.2, 7.6, 7.0, 6.6, 7.0, 6.4, 6.8, 7.8, 10.0, 11.8, 13.4, 14.6, 15.8, 14.0, 12.6, 11.4, 12.2, 10.8, 9.6, 9.2, 10.4, 9.6, 8.8, 10.0, 12.0, 11.2, 10.4, 10.0, 11.6, 12.4, 13.6, 14.4, 15.6, 14.0, 12.8, 12.2, 13.2, 12.0, 11.6],
    [7.9, 9.3, 9.8, 15.6, 13.2, 10.0, 9.8, 10.6, 10.8, 10.6, 10.0, 7.8, 7.0, 5.6, 6.4, 8.4, 10.8, 11.6, 10.0, 8.0, 6.6, 6.2, 5.4, 5.0, 5.4, 6.4, 5.8, 5.4, 5.8, 6.8, 6.2, 5.8, 6.0, 7.2, 6.6, 6.4, 6.8, 8.4, 7.6, 6.8, 7.2, 8.6, 8.0, 7.2, 6.8, 8.0, 7.0, 5.8, 5.4, 6.2, 5.0, 4.2, 3.8, 5.0, 4.2, 3.4, 3.0, 4.2, 3.8, 3.4],
    [8.2, 9.7, 10.3, 17.4, 14.6, 11.0, 10.8, 11.8, 12.2, 12.2, 11.6, 9.0, 8.6, 8.8, 8.4, 9.8, 12.6, 14.4, 12.0, 9.6, 8.0, 8.0, 7.2, 6.8, 7.2, 8.0, 7.2, 6.8, 7.2, 8.4, 7.6, 8.0, 8.8, 10.2, 9.4, 8.8, 8.4, 9.4, 8.8, 8.4, 9.4, 11.2, 10.6, 10.2, 11.4, 13.6, 12.6, 11.6, 11.4, 13.4, 11.8, 10.6, 9.8, 11.4, 10.6, 10.2, 11.4, 14.0, 15.6, 18.6],
    [7.8, 9.3, 9.7, 16.0, 13.6, 10.2, 10.0, 10.8, 11.0, 10.8, 10.2, 7.8, 7.0, 7.0, 6.6, 7.8, 10.6, 11.8, 10.4, 8.0, 6.4, 6.0, 5.2, 4.6, 5.0, 5.4, 4.2, 3.4, 3.0, 4.2, 3.8, 3.4, 3.4, 5.0, 4.6, 3.8, 3.4, 4.6, 3.8, 3.0, 3.4, 4.6, 3.8, 3.0, 3.0, 4.2, 3.8, 3.4, 3.8, 5.4, 5.0, 4.6, 5.0, 6.4, 5.8, 5.0, 4.6, 5.8, 5.0, 4.6],
    [8.0, 9.5, 10.0, 16.4, 14.0, 10.6, 10.4, 11.2, 11.4, 11.4, 10.8, 8.4, 8.0, 8.2, 7.6, 8.6, 11.4, 12.6, 11.0, 8.6, 7.4, 7.2, 6.4, 6.0, 6.2, 7.0, 6.2, 6.0, 6.4, 7.2, 6.6, 6.6, 6.8, 8.0, 8.8, 10.2, 11.8, 12.8, 11.4, 9.8, 9.2, 9.8, 8.8, 7.6, 6.8, 7.6, 6.4, 5.8, 5.4, 6.8, 6.4, 6.4, 7.2, 8.8, 8.0, 7.6, 8.0, 9.6, 8.8, 8.4],
    [8.0, 9.6, 10.1, 16.6, 14.2, 10.8, 10.6, 11.4, 11.6, 11.6, 11.0, 8.6, 7.6, 7.0, 7.8, 10.2, 14.2, 16.6, 13.6, 9.8, 7.6, 6.8, 5.8, 5.0, 5.6, 7.2, 6.4, 6.0, 5.8, 6.4, 5.4, 4.6, 4.2, 5.4, 4.6, 4.2, 3.8, 4.6, 4.2, 3.8, 4.2, 5.4, 4.6, 4.2, 4.2, 5.4, 5.0, 4.6, 5.0, 6.0, 5.4, 5.0, 5.4, 6.4, 5.8, 5.4, 5.8, 6.8, 6.4, 6.0],
    [8.1, 9.6, 10.2, 16.8, 14.4, 10.8, 10.6, 11.4, 11.6, 11.8, 11.2, 8.8, 8.4, 9.6, 10.4, 12.0, 14.2, 15.6, 13.6, 11.0, 9.6, 9.4, 8.8, 8.4, 8.8, 9.4, 8.8, 8.4, 8.8, 9.8, 9.2, 8.8, 8.8, 10.0, 9.4, 9.0, 9.0, 10.2, 9.6, 9.2, 9.6, 10.8, 10.2, 9.6, 9.8, 11.0, 10.4, 9.8, 9.6, 10.8, 10.2, 9.8, 10.0, 11.2, 10.6, 10.0, 10.2, 11.4, 10.8, 10.4],
    [7.9, 9.4, 9.8, 16.0, 13.6, 10.2, 10.0, 10.8, 11.0, 10.8, 10.2, 7.8, 7.0, 6.4, 6.0, 7.0, 9.0, 10.0, 8.8, 7.4, 6.2, 6.2, 5.6, 5.2, 5.6, 6.2, 5.8, 5.8, 6.0, 6.8, 6.2, 5.8, 5.8, 6.4, 6.0, 5.6, 5.4, 6.2, 5.8, 5.4, 5.8, 6.8, 6.2, 5.8, 6.0, 6.8, 6.2, 5.6, 5.4, 6.2, 5.8, 5.4, 5.8, 6.8, 6.2, 5.8, 6.0, 7.0, 6.6, 6.2],
    [8.0, 9.5, 10.0, 16.4, 14.0, 10.6, 10.4, 11.0, 11.2, 11.2, 10.6, 8.4, 7.8, 7.8, 8.8, 11.4, 15.4, 17.6, 14.6, 10.6, 8.4, 7.6, 6.8, 6.4, 6.0, 5.6, 5.0, 5.0, 5.4, 5.8, 5.2, 5.6, 6.4, 7.8, 7.4, 7.8, 8.6, 10.0, 9.2, 8.2, 7.8, 8.4, 7.4, 6.6, 6.2, 7.2, 6.6, 5.8, 6.2, 7.6, 7.4, 7.8, 8.6, 10.0, 9.2, 8.4, 8.4, 9.6, 8.8, 8.4],
]
gust_warn_high = 27.8
gust_warn_low = 20.8

cloud_oper = [72, 98, 100, 100, 0, 0, 0, 95, 100, 76, 53, 75, 21, 100, 100, 99, 100, 100, 94, 1,
              97, 99, 100, 100, 98, 100, 100, 98, 70, 7, 93, 100, 100, 100, 88, 100, 86, 6, 100, 94]
cloud_ctrl = [45, 100, 100, 100, 4, 0, 0, 98, 100, 37, 15, 84, 38, 97, 100, 66, 100, 100, 10, 74,
              100, 100, 100, 100, 98, 43, 80, 40, 98, 96, 97, 100, 96, 100, 93, 100, 96, 80, 55, 97,
              89, 95, 100, 100, 95, 90, 100, 84, 96, 100, 100, 98, 98, 53, 47, 63, 59, 100, 93, 86]
cloud_low = [42, 97, 100, 100, 0, 0, 0, 84, 97, 59, 39, 42, 37, 68, 88, 98, 98, 99, 95, 98,
             98, 90, 95, 91, 96, 80, 78, 80, 90, 62, 82, 86, 87, 82, 43, 48, 34, 70, 77, 62,
             66, 61, 62, 80, 83, 71, 53, 63, 70, 72, 40, 45, 67, 34, 46, 41, 51, 49, 66, 62]
cloud_high = [85, 100, 100, 100, 11.5, 1, 30, 100, 100, 100, 97, 100, 100, 100, 100, 100, 100, 100, 100, 100,
              100, 100, 100, 100, 100, 100, 100, 100, 100, 100, 100, 100, 100, 100, 100, 100, 100, 100, 100, 100,
              100, 100, 100, 100, 100, 100, 100, 100, 100, 100, 100, 100, 100, 100, 100, 100, 100, 100, 100, 100]
cloud_med = [64, 99, 100, 100, 4, 0, 3, 97, 99, 89, 53, 80, 90, 98, 99, 99, 99, 100, 99, 99,
             99, 99, 99, 99, 99, 99, 99, 99, 98, 98, 98, 99, 99, 96, 93, 99, 99, 99, 98, 97,
             98, 93, 99, 98, 98, 90, 99, 96, 93, 93, 91, 89, 89, 80, 78, 89, 89, 92, 94, 95]

# ---- opmaak ----
W, H = 635, 1800
STEP_PX = 10.25
C_OPER = '#d83a3a'
C_CTRL = '#3535cf'
C_MEM = '#55a832'
C_AVG = '#7a0000'

fig = plt.figure(figsize=(W / 100, H / 100), dpi=100)
fig.patch.set_facecolor('white')


def fx(px):
    return px / W


def fy(py):
    return 1 - py / H


def base_axes(top, left, ylim, yticks):
    ax = fig.add_axes([fx(left), fy(top + 260), fx(W - left), 260 / H])
    ax.set_xlim(0, (W - left) / STEP_PX)
    ax.set_ylim(*ylim)
    ax.set_yticks(yticks)
    ax.xaxis.remove_overlapping_locs = False
    ax.set_xticks(np.arange(0, 60))
    ax.set_xticklabels([])
    ax.set_xticks(np.arange(1, 60, 4), labels=days, minor=True)
    ax.tick_params(axis='x', which='major', length=4, width=1, direction='out')
    ax.tick_params(axis='x', which='minor', length=0, pad=5, labelsize=7.8)
    ax.tick_params(axis='y', length=4, labelsize=7.8, pad=1.5)
    ax.set_axisbelow(True)
    ax.grid(True, which='major', color='#dddddd', lw=1)
    for m in np.arange(3, 60, 4):
        ax.axvline(m, color='#555555', lw=1, zorder=1)
    ax.spines['right'].set_visible(False)
    for s in ['top', 'left', 'bottom']:
        ax.spines[s].set_linewidth(1.3)
    return ax


def header(top, title):
    fig.text(fx(416), fy(top - 7), title, ha='center', va='center',
             fontsize=9.5, fontweight='bold')
    fig.text(fx(633), fy(top - 15), 'Infoplaza.nl - regio noordoost', ha='right',
             va='center', fontsize=7, color='#a0a0a0')
    fig.text(fx(633), fy(top - 6), 'Gemaakt: wo 21 nov 10:00', ha='right',
             va='center', fontsize=7, color='#a0a0a0')


def line_legend(top):
    y = fy(top - 7)
    items = [(28, 'Oper', dict(color=C_OPER, lw=3)),
             (97, 'Control', dict(color=C_CTRL, lw=3)),
             (174, 'Members', dict(color=C_MEM, lw=1, alpha=0.6)),
             (260, 'Average', dict(color=C_AVG, lw=2.5, linestyle=(0, (1, 1))))]
    for x0, label, kw in items:
        fig.add_artist(Line2D([fx(x0), fx(x0 + 16)], [y, y], transform=fig.transFigure, **kw))
        fig.text(fx(x0 + 19), y, label, ha='left', va='center', fontsize=7.5)


def ensemble_panel(top, title, ylim, yticks, members, avg, ctrl, oper):
    ax = base_axes(top, 28, ylim, yticks)
    for m in members:
        ax.plot(np.arange(len(m)), m, color=C_MEM, lw=1.0, alpha=0.5, zorder=2)
    ax.plot(np.arange(len(avg)), avg, color=C_AVG, lw=2.5, linestyle=(0, (1, 1)), zorder=3)
    ax.plot(np.arange(len(ctrl)), ctrl, color=C_CTRL, lw=3, zorder=4)
    ax.plot(np.arange(len(oper)), oper, color=C_OPER, lw=3, zorder=5)
    header(top, title)
    line_legend(top)
    return ax


ax1 = ensemble_panel(20, 'Temperatuur 2m', (-15, 20), np.arange(-15, 21, 5),
                     temp_members, temp_avg, temp_ctrl, temp_oper)
ax1.axhline(0, color='black', lw=2, zorder=3.5)

ensemble_panel(320, 'Dauwpunt 2m', (-25, 15), np.arange(-25, 16, 5),
               dew_members, dew_avg, dew_ctrl, dew_oper)

ensemble_panel(620, 'Neerslag', (0, 10), np.arange(0, 11, 2),
               rain_members, rain_avg, rain_ctrl, rain_oper)

ensemble_panel(920, '10m wind', (0, 16), np.arange(0, 17, 2),
               wind_members, wind_avg, wind_ctrl, wind_oper)

ax5 = ensemble_panel(1220, '10m windstoten', (0, 30), np.arange(0, 31, 2),
                     gust_members, gust_avg, gust_ctrl, gust_oper)
ax5.axhline(gust_warn_high, color='#ff44ff', lw=1.5, linestyle=(0, (4, 3)), zorder=1.5)
ax5.axhline(gust_warn_low, color='#2f4f4f', lw=1.5, linestyle=(0, (1, 2)), zorder=1.5)

# ---- bedekkingsgraad ----
TOP6 = 1520
ax6 = base_axes(TOP6, 24, (0, 100), np.arange(0, 101, 10))
t_mid = np.arange(len(cloud_low)) + 0.5
ax6.bar(t_mid, np.array(cloud_high) - np.array(cloud_low), bottom=cloud_low, width=0.8,
        color='#fafab4', edgecolor='#c4c4c4', lw=1, zorder=2)
ax6.hlines(cloud_med, t_mid - 0.4, t_mid + 0.4, color='#333300', lw=1.2, zorder=2.5)
halo = [pe.Stroke(linewidth=5, foreground='#c8c8c8', alpha=0.6), pe.Normal()]
ax6.plot(np.arange(len(cloud_ctrl)) + 0.5, cloud_ctrl, color=C_CTRL, lw=2.3,
         zorder=4, path_effects=halo)
ax6.plot(np.arange(len(cloud_oper)) + 0.5, cloud_oper, color=C_OPER, lw=2.3,
         zorder=5, path_effects=halo)
ax6.set_ylim(0, 100)

fig.text(fx(416), fy(TOP6 - 7), 'Bedekkingsgraad', ha='center', va='center',
         fontsize=9.5, fontweight='bold')
fig.text(fx(633), fy(TOP6 - 15), 'Infoplaza.nl - regio noordoost', ha='right',
         va='center', fontsize=7, color='#a0a0a0')
fig.text(fx(633), fy(TOP6 - 6), 'Gemaakt: wo 21 nov 10:00', ha='right',
         va='center', fontsize=7, color='#a0a0a0')
for x0, label, col in [(30, 'oper', C_OPER), (87, 'control', C_CTRL),
                       (156, '50%', '#fafab4'), (213, 'median', 'black')]:
    fig.add_artist(Rectangle((fx(x0), fy(TOP6 - 3)), 7 / W, 7 / H, transform=fig.transFigure,
                             facecolor=col, edgecolor='#888888', lw=0.8))
    fig.text(fx(x0 + 10), fy(TOP6 - 7), label, ha='left', va='center', fontsize=7.5)

fig.savefig('out.png', dpi=100, facecolor='white')
